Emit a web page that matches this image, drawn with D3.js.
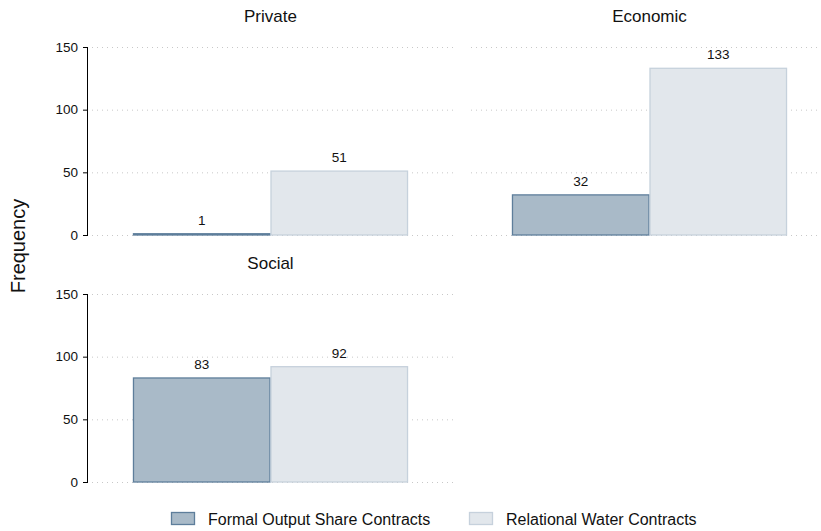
<!DOCTYPE html>
<html>
<head>
<meta charset="utf-8">
<script src="https://cdn.jsdelivr.net/npm/d3@7"></script>
<style>
  body { margin: 0; background: #fff; }
  svg { font-family: "Liberation Sans", Arial, sans-serif; }
</style>
</head>
<body>
<div class="chart"></div>
<script>
var panels = ["Private", "Economic", "Social"];
var seriesNames = ["Formal Output Share Contracts", "Relational Water Contracts"];
var formalValues = [1, 32, 83];
var relationalValues = [51, 133, 92];
var yTicks = [0, 50, 100, 150];

var width = 821, height = 531;
var fills = ["#a9bac8", "#e2e7ec"];
var strokes = ["#5e7e9b", "#c6d1dc"];

// plot areas of the three panels
var panelBoxes = [
  {x0: 88, x1: 453, y0: 47, y1: 235, axis: true},
  {x0: 467, x1: 832, y0: 47, y1: 235, axis: false},
  {x0: 88, x1: 453, y0: 294, y1: 482, axis: true}
];

var svg = d3.select(".chart").append("svg")
  .attr("width", width)
  .attr("height", height);

panels.forEach(function(name, i) {
  var box = panelBoxes[i];
  var y = d3.scaleLinear().domain([0, 150]).range([box.y1, box.y0]);
  var x = d3.scaleBand().domain(seriesNames).range([box.x0, box.x1])
    .paddingInner(0).paddingOuter(0.327);
  var g = svg.append("g");

  // dotted gridlines
  g.selectAll("line.grid").data(yTicks).enter().append("line")
    .attr("x1", box.x0 + 4)
    .attr("x2", Math.min(box.x1, width - 2))
    .attr("y1", function(d) { return y(d) + 0.5; })
    .attr("y2", function(d) { return y(d) + 0.5; })
    .attr("stroke", "#c8c8c8")
    .attr("stroke-width", 1)
    .attr("stroke-dasharray", "1,4");

  if (box.axis) {
    var axis = d3.axisLeft(y).tickValues(yTicks).tickSize(5).tickPadding(5);
    var ag = g.append("g")
      .attr("transform", "translate(" + box.x0 + ",0)")
      .call(axis);
    ag.select(".domain").attr("stroke", "#000").attr("d", "M-0.5," + box.y1 + "V" + box.y0);
    ag.selectAll("text").attr("font-size", 13.5).attr("fill", "#111");
    ag.selectAll(".tick line").attr("stroke", "#000");
  }

  var vals = [formalValues[i], relationalValues[i]];
  g.selectAll("rect.bar").data(vals).enter().append("rect")
    .attr("x", function(d, j) { return x(seriesNames[j]) + 0.5; })
    .attr("y", function(d) { return y(d); })
    .attr("width", x.bandwidth() - 1)
    .attr("height", function(d) { return box.y1 - y(d); })
    .attr("fill", function(d, j) { return fills[j]; })
    .attr("stroke", function(d, j) { return strokes[j]; })
    .attr("stroke-width", 1.3);

  g.selectAll("text.val").data(vals).enter().append("text")
    .attr("x", function(d, j) { return x(seriesNames[j]) + x.bandwidth() / 2; })
    .attr("y", function(d) { return y(d) - 9; })
    .attr("text-anchor", "middle")
    .attr("font-size", 13.5)
    .attr("fill", "#111")
    .text(function(d) { return d; });

  g.append("text")
    .attr("x", (box.x0 + box.x1) / 2)
    .attr("y", box.y0 - 25)
    .attr("text-anchor", "middle")
    .attr("font-size", 17)
    .attr("fill", "#111")
    .text(name);
});

svg.append("text")
  .attr("transform", "translate(25,246) rotate(-90)")
  .attr("text-anchor", "middle")
  .attr("font-size", 20)
  .attr("fill", "#111")
  .text("Frequency");

var legendX = [171, 469];
var legend = svg.selectAll("g.legend").data(seriesNames).enter().append("g")
  .attr("transform", function(d, j) { return "translate(" + legendX[j] + ",512)"; });
legend.append("rect")
  .attr("x", 0.5).attr("y", 0.5)
  .attr("width", 23).attr("height", 12)
  .attr("fill", function(d, j) { return fills[j]; })
  .attr("stroke", function(d, j) { return strokes[j]; })
  .attr("stroke-width", 1.3);
legend.append("text")
  .attr("x", 37)
  .attr("y", 12.5)
  .attr("font-size", 16)
  .attr("fill", "#111")
  .text(function(d) { return d; });
</script>
</body>
</html>
